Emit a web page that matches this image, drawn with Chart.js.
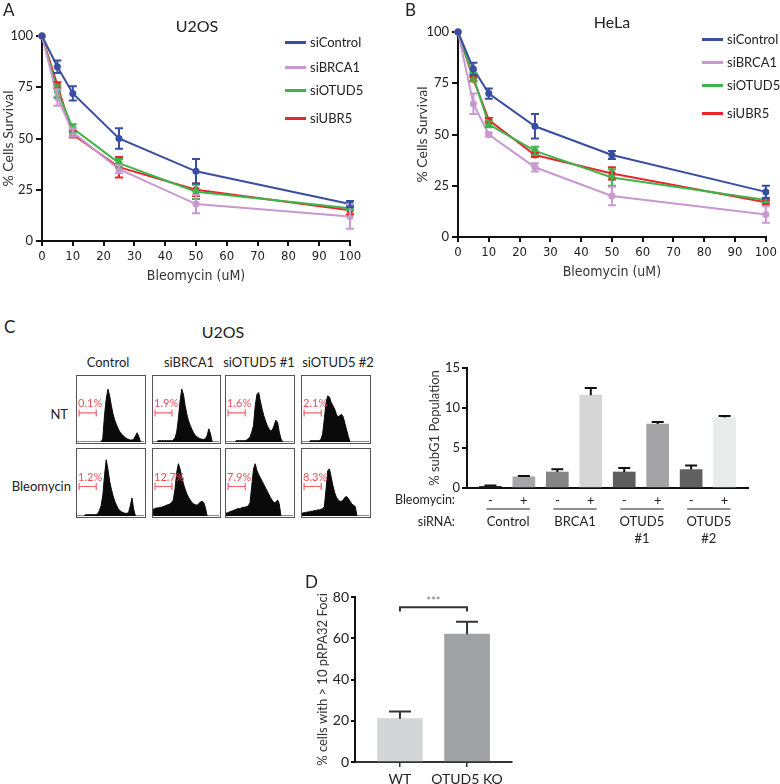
<!DOCTYPE html>
<html>
<head>
<meta charset="utf-8">
<script src="https://cdn.jsdelivr.net/npm/chart.js@4.4.1/dist/chart.umd.min.js"></script>
<style>
  body { margin: 0; background: #fff; width: 780px; height: 784px; position: relative; overflow: hidden; font-family: Lato, 'Open Sans', sans-serif; color: #222; }
  .pane { position: absolute; }
  .txt { position: absolute; white-space: nowrap; line-height: 1; }
  .box { position: absolute; border: 1.5px solid #555; box-sizing: border-box; }
  .box canvas { position: absolute; left: 0; top: 0; }
</style>
</head>
<body>
<div class="pane" style="left:0;top:0;width:390px;height:300px"><canvas id="chartA" width="390" height="300"></canvas></div>
<div class="pane" style="left:390px;top:0;width:390px;height:300px"><canvas id="chartB" width="390" height="300"></canvas></div>
<div class="pane" style="left:420px;top:340px;width:340px;height:210px"><canvas id="chartC" width="340" height="210"></canvas></div>
<div class="pane" style="left:240px;top:570px;width:290px;height:214px"><canvas id="chartD" width="290" height="214"></canvas></div>
<div id="texts"></div>

<script>
// survival curves (A: U2OS, B: HeLa)
const doses = [0, 5, 10, 25, 50, 100];
const seriesNames = ['siControl', 'siBRCA1', 'siOTUD5', 'siUBR5'];
const seriesColors = ['#3a4ea1', '#c898d0', '#3db54a', '#e8262b'];

const u2osControl = [100, 85, 72, 50, 34, 18];
const u2osControlErr = [0, 3, 3.5, 5, 6, 1.5];
const u2osBrca1 = [100, 70, 53, 35, 18, 12];
const u2osBrca1Err = [0, 4, 2, 2, 4.5, 6];
const u2osOtud5 = [100, 73, 55, 38, 24, 16];
const u2osOtud5Err = [0, 3, 2, 2, 3.5, 1];
const u2osUbr5 = [100, 76, 52, 36, 25, 15];
const u2osUbr5Err = [0, 1.5, 1.5, 5, 3, 2];

const helaControl = [100, 82, 70, 54, 40, 22];
const helaControlErr = [0, 3, 2.5, 6, 2, 3];
const helaBrca1 = [100, 65, 50, 34, 20, 11];
const helaBrca1Err = [0, 5, 1, 2, 4.5, 4];
const helaOtud5 = [100, 78, 55, 42, 29, 18];
const helaOtud5Err = [0, 2, 1.5, 2, 4, 1];
const helaUbr5 = [100, 77, 57, 40, 31, 17];
const helaUbr5Err = [0, 1, 1, 1, 3, 1];

// C: flow histograms (bin counts, arbitrary units) and gate percentages
const histColumns = ['Control', 'siBRCA1', 'siOTUD5 #1', 'siOTUD5 #2'];
const histRows = ['NT', 'Bleomycin'];
const histCtrlNT = [0,0,0,0,0,0,0,0,0,0,0,0,0,0,0,5,40,65,80,70,55,42,33,26,20,15,12,9,7,5,4,3,3,4,9,14,8,0,0,0];
const histBrcaNT = [0,0,0,2,2,2,2,2,2,2,2,2,3,6,15,35,62,80,72,55,42,32,25,19,14,10,8,6,5,4,4,5,10,20,12,0,0,0,0,0];
const histOtud1NT = [0,0,0,0,0,0,2,2,2,2,2,2,3,5,8,15,25,55,72,75,62,50,40,32,25,20,17,18,25,33,30,15,5,0,0,0,0,0,0,0];
const histOtud2NT = [0,0,0,0,0,2,2,2,2,2,2,4,12,35,60,70,68,60,55,50,42,38,40,42,38,28,18,8,0,0,0,0,0,0,0,0,0,0,0,0];
const histCtrlBleo = [0,0,0,0,0,2,2,2,2,2,2,2,3,8,15,30,60,84,70,52,40,30,22,16,11,8,6,5,4,4,5,15,27,10,0,0,0,0,0,0];
const histBrcaBleo = [10,11,12,12,13,13,14,15,16,17,18,20,24,40,65,78,70,58,48,40,33,28,24,20,18,17,16,18,21,22,20,12,0,0,0,0,0,0,0,0];
const histOtud1Bleo = [4,5,6,7,8,9,10,11,11,12,13,13,14,15,20,45,70,78,68,62,57,52,47,42,37,32,27,23,20,20,24,18,0,0,0,0,0,0,0,0];
const histOtud2Bleo = [4,5,5,6,6,7,7,8,8,9,9,10,11,14,40,68,70,58,45,35,28,24,22,22,24,28,29,26,22,18,16,14,0,0,0,0,0,0,0,0];
const ntGates = ['0.1%', '1.9%', '1.6%', '2.1%'];
const bleoGates = ['1.2%', '12.7%', '7.9%', '8.3%'];

// C: subG1 bars
const bleoSigns = ['-', '+', '-', '+', '-', '+', '-', '+'];
const subG1Values = [0.2, 1.4, 2.0, 11.6, 2.0, 8.0, 2.3, 8.8];
const subG1Errors = [0.1, 0.1, 0.35, 0.9, 0.5, 0.25, 0.5, 0.2];
const subG1Colors = ['#222222', '#a6a6a8', '#858585', '#d6d6d6', '#5e5e5e', '#a3a3a5', '#616161', '#e9eaea'];
const siRnaGroups = [['Control'], ['BRCA1'], ['OTUD5', '#1'], ['OTUD5', '#2']];

// D: pRPA32 foci
const fociLabels = ['WT', 'OTUD5 KO'];
const fociValues = [21, 62];
const fociErrors = [3.5, 6];
const fociColors = ['#d4d5d6', '#a0a1a4'];
const sigLevel = 75;
const sigText = '***';

const tickFont = "'Liberation Sans Narrow', 'DejaVu Sans Condensed', 'Open Sans', sans-serif";
const labelFont = "Lato, 'Open Sans', sans-serif";
Chart.defaults.font.family = labelFont;
Chart.defaults.color = '#222';
Chart.defaults.animation = false;

const errorBarPlugin = {
    id: 'errorBars',
    afterDatasetsDraw(chart) {
        const ctx = chart.ctx;
        const yScale = chart.scales.y;
        // reverse order so the first series ends on top, like the lines
        for (let i = chart.data.datasets.length - 1; i >= 0; i--) {
            const ds = chart.data.datasets[i];
            if (!ds.errors) continue;
            const meta = chart.getDatasetMeta(i);
            ctx.save();
            ctx.strokeStyle = ds.errorColor || ds.borderColor;
            ctx.lineWidth = 2;
            meta.data.forEach((el, j) => {
                const err = ds.errors[j];
                if (!err) return;
                const v = ds.data[j].y;
                const top = yScale.getPixelForValue(v + err);
                const bot = ds.upOnly ? yScale.getPixelForValue(v) : yScale.getPixelForValue(v - err);
                const half = ds.capWidth / 2;
                ctx.beginPath();
                ctx.moveTo(el.x, bot);
                ctx.lineTo(el.x, top);
                ctx.moveTo(el.x - half, top);
                ctx.lineTo(el.x + half, top);
                if (!ds.upOnly) {
                    ctx.moveTo(el.x - half, bot);
                    ctx.lineTo(el.x + half, bot);
                }
                ctx.stroke();
            });
            ctx.restore();
        }
    }
};

function yAxis(o) {
    return {
        min: o.min, max: o.max,
        ticks: { stepSize: o.step, color: '#222', padding: o.pad ?? 3, font: { family: labelFont, size: o.fs ?? 13 } },
        grid: { drawOnChartArea: false, drawTicks: true, tickLength: o.tick ?? 6, color: '#111', lineWidth: 2 },
        border: { color: '#111', width: 2 },
        title: { display: true, text: o.title, color: '#333', padding: { top: o.tp ?? 0, bottom: 0 }, font: { family: labelFont, size: o.tfs ?? 14 } },
        afterFit: (s) => { s.width = o.width; }
    };
}

function doseAxis(height) {
    return {
        type: 'linear', min: 0, max: 100,
        ticks: { stepSize: 10, color: '#222', padding: 3, font: { family: tickFont, size: 13 } },
        grid: { drawOnChartArea: false, drawTicks: true, tickLength: 5, color: '#111', lineWidth: 2 },
        border: { color: '#111', width: 2 },
        title: { display: true, text: 'Bleomycin (uM)', color: '#333', padding: { top: 0, bottom: 6 }, font: { family: tickFont, size: 14 } },
        afterFit: (s) => { s.height = height; }
    };
}

function lineSets(values, errors) {
    return values.map((v, i) => ({
        label: seriesNames[i],
        data: doses.map((d, j) => ({ x: d, y: v[j] })),
        errors: errors[i],
        borderColor: seriesColors[i],
        backgroundColor: seriesColors[i],
        borderWidth: 2,
        pointRadius: 3.5,
        pointBorderWidth: 0,
        capWidth: 8,
        clip: false
    }));
}

function survivalChart(id, values, errors, padding, yWidth) {
    return new Chart(document.getElementById(id), {
        type: 'line',
        data: { datasets: lineSets(values, errors) },
        options: {
            responsive: false,
            layout: { padding },
            plugins: { legend: { display: false }, tooltip: { enabled: false } },
            scales: {
                x: doseAxis(50),
                y: yAxis({ min: 0, max: 100, step: 25, width: yWidth, title: '% Cells Survival' })
            }
        },
        plugins: [errorBarPlugin]
    });
}

survivalChart('chartA',
    [u2osControl, u2osBrca1, u2osOtud5, u2osUbr5],
    [u2osControlErr, u2osBrca1Err, u2osOtud5Err, u2osUbr5Err],
    { left: 0, top: 36, right: 40, bottom: 9 }, 42);

survivalChart('chartB',
    [helaControl, helaBrca1, helaOtud5, helaUbr5],
    [helaControlErr, helaBrca1Err, helaOtud5Err, helaUbr5Err],
    { left: 24, top: 32, right: 14, bottom: 13 }, 44);

// histograms
const gatePlugin = {
    id: 'gate',
    afterDatasetsDraw(chart, args, opts) {
        const { ctx, scales: { x, y } } = chart;
        const x0 = x.getPixelForValue(1.2);
        const x1 = x.getPixelForValue(11.2);
        const yy = y.getPixelForValue(44);
        ctx.save();
        ctx.strokeStyle = '#f0646b';
        ctx.lineWidth = 1.2;
        ctx.beginPath();
        ctx.moveTo(x0, yy); ctx.lineTo(x1, yy);
        ctx.moveTo(x0, yy - 3.5); ctx.lineTo(x0, yy + 3.5);
        ctx.moveTo(x1, yy - 3.5); ctx.lineTo(x1, yy + 3.5);
        ctx.stroke();
        ctx.fillStyle = '#ef4f59';
        ctx.font = "11px " + labelFont;
        ctx.textAlign = 'left';
        ctx.textBaseline = 'middle';
        ctx.fillText(opts.label, x0 - 1, y.getPixelForValue(58));
        ctx.restore();
    }
};

const histData = [
    [histCtrlNT, histBrcaNT, histOtud1NT, histOtud2NT],
    [histCtrlBleo, histBrcaBleo, histOtud1Bleo, histOtud2Bleo]
];
const histGates = [ntGates, bleoGates];
const boxLeft = [76, 152, 225, 301];
const boxWidth = [70, 69, 70, 70];
const boxTop = [375, 448];
const boxHeight = [69, 70];

histData.forEach((row, r) => {
    row.forEach((bins, c) => {
        const box = document.createElement('div');
        box.className = 'box';
        box.style.left = boxLeft[c] + 'px';
        box.style.top = boxTop[r] + 'px';
        box.style.width = boxWidth[c] + 'px';
        box.style.height = boxHeight[r] + 'px';
        const cv = document.createElement('canvas');
        cv.width = boxWidth[c] - 3;
        cv.height = boxHeight[r] - 3;
        box.appendChild(cv);
        document.body.appendChild(box);
        new Chart(cv, {
            type: 'line',
            data: {
                datasets: [{
                    data: bins.map((v, i) => ({ x: i, y: v })),
                    borderColor: '#0a0a0a',
                    borderWidth: 1,
                    backgroundColor: '#0a0a0a',
                    fill: 'origin',
                    pointRadius: 0
                }]
            },
            options: {
                responsive: false,
                layout: { padding: 0 },
                plugins: { legend: { display: false }, tooltip: { enabled: false }, gate: { label: histGates[r][c] } },
                scales: {
                    x: { type: 'linear', display: false, min: 0, max: bins.length - 1 },
                    y: { display: false, min: 0, max: 100 }
                }
            },
            plugins: [gatePlugin]
        });
    });
});

// subG1 bar chart
const groupPlugin = {
    id: 'groups',
    afterDraw(chart) {
        const { ctx, scales: { x }, chartArea } = chart;
        ctx.save();
        siRnaGroups.forEach((lines, g) => {
            const x0 = x.getPixelForValue(g * 2);
            const x1 = x.getPixelForValue(g * 2 + 1);
            const yLine = chartArea.bottom + 21;
            ctx.strokeStyle = '#222';
            ctx.lineWidth = 1.2;
            ctx.beginPath();
            ctx.moveTo(x0 - 4, yLine);
            ctx.lineTo(x1 + 6, yLine);
            ctx.stroke();
            ctx.fillStyle = '#222';
            ctx.font = "13px " + labelFont;
            ctx.textAlign = 'center';
            ctx.textBaseline = 'middle';
            lines.forEach((t, k) => ctx.fillText(t, (x0 + x1) / 2 + 1, chartArea.bottom + 34 + k * 17));
        });
        ctx.restore();
    }
};

// one tick per bar, whatever the padded range is
const barTicks = (labels) => (s) => { s.ticks = labels.map((_, i) => ({ value: i })); };

new Chart(document.getElementById('chartC'), {
    type: 'bar',
    data: {
        datasets: [{
            data: subG1Values.map((v, i) => ({ x: i, y: v })),
            errors: subG1Errors,
            upOnly: true,
            errorColor: '#111',
            capWidth: 12,
            backgroundColor: subG1Colors,
            barThickness: 22
        }]
    },
    options: {
        responsive: false,
        layout: { padding: { left: 5, top: 28, right: 12, bottom: 0 } },
        plugins: { legend: { display: false }, tooltip: { enabled: false } },
        scales: {
            x: {
                type: 'linear', min: -0.7, max: 7.7, offset: false,
                afterBuildTicks: barTicks(bleoSigns),
                ticks: { autoSkip: false, maxRotation: 0, padding: 5, color: '#222', font: { family: labelFont, size: 13 },
                    callback: (v) => bleoSigns[v] ?? '' },
                grid: { offset: false, drawOnChartArea: false, drawTicks: false },
                border: { color: '#111', width: 2 },
                afterFit: (s) => { s.height = 62; }
            },
            y: yAxis({ min: 0, max: 15, step: 5, width: 42, pad: 2, tick: 5, tp: 2, title: '% subG1 Population', tfs: 13 })
        }
    },
    plugins: [errorBarPlugin, groupPlugin]
});

// D bar chart
const sigPlugin = {
    id: 'sig',
    afterDatasetsDraw(chart) {
        const { ctx, scales: { x, y } } = chart;
        const x0 = x.getPixelForValue(0);
        const x1 = x.getPixelForValue(1);
        const yTop = y.getPixelForValue(sigLevel);
        const yEnd = y.getPixelForValue(sigLevel - 2);
        ctx.save();
        ctx.strokeStyle = '#333';
        ctx.lineWidth = 2;
        ctx.beginPath();
        ctx.moveTo(x0, yEnd); ctx.lineTo(x0, yTop); ctx.lineTo(x1, yTop); ctx.lineTo(x1, yEnd);
        ctx.stroke();
        ctx.fillStyle = '#777';
        ctx.font = "11px " + labelFont;
        ctx.textAlign = 'center';
        ctx.textBaseline = 'middle';
        ctx.fillText(sigText, (x0 + x1) / 2, yTop - 6);
        ctx.restore();
    }
};

new Chart(document.getElementById('chartD'), {
    type: 'bar',
    data: {
        datasets: [{
            data: fociValues.map((v, i) => ({ x: i, y: v })),
            errors: fociErrors,
            upOnly: true,
            errorColor: '#333',
            capWidth: 22,
            backgroundColor: fociColors,
            barThickness: 45
        }]
    },
    options: {
        responsive: false,
        layout: { padding: { left: 75, top: 27, right: 18, bottom: 0 } },
        plugins: { legend: { display: false }, tooltip: { enabled: false } },
        scales: {
            x: {
                type: 'linear', min: -0.67, max: 1.67, offset: false,
                afterBuildTicks: barTicks(fociLabels),
                ticks: { autoSkip: false, maxRotation: 0, padding: 4, color: '#222', font: { family: labelFont, size: 14 },
                    callback: (v) => fociLabels[v] ?? '' },
                grid: { offset: false, drawOnChartArea: false, drawTicks: true, tickLength: 5, color: '#333', lineWidth: 1.5 },
                border: { color: '#333', width: 2 },
                afterFit: (s) => { s.height = 22; }
            },
            y: yAxis({ min: 0, max: 80, step: 20, width: 40, pad: 2, tick: 4, title: '% cells with > 10 pRPA32 Foci', tfs: 13, fs: 14 })
        }
    },
    plugins: [errorBarPlugin, sigPlugin]
});

// text overlays
const texts = document.getElementById('texts');
function put(text, x, y, anchor, size) {
    const d = document.createElement('div');
    d.className = 'txt';
    d.textContent = text;
    d.style.left = x + 'px';
    d.style.top = y + 'px';
    d.style.fontSize = size + 'px';
    const tx = anchor === 'c' ? '-50%' : anchor === 'r' ? '-100%' : '0';
    d.style.transform = 'translate(' + tx + ',-50%)';
    texts.appendChild(d);
}

put('A', 3, 9, 'l', 17);
put('B', 405, 9, 'l', 17);
put('U2OS', 197, 26, 'c', 16);
put('HeLa', 612, 22, 'c', 16);

function legend(x, rows) {
    seriesNames.forEach((name, i) => {
        const ln = document.createElement('div');
        ln.className = 'pane';
        Object.assign(ln.style, { left: x + 'px', top: (rows[i] - 1) + 'px', width: '21px', height: '2.5px', background: seriesColors[i] });
        texts.appendChild(ln);
        put(name, x + 25, rows[i], 'l', 13);
    });
}
legend(285, [42, 67, 90, 118]);
legend(702, [39, 62, 85, 113]);

put('C', 4, 326, 'l', 17);
put('U2OS', 223, 332, 'c', 16);
const headerX = [108, 189, 259, 338];
histColumns.forEach((h, i) => put(h, headerX[i], 362, 'c', 13));
put(histRows[0], 68, 414, 'r', 13);
put(histRows[1], 71, 486, 'r', 13);
put('Bleomycin:', 455, 500, 'r', 12.5);
put('siRNA:', 455, 522, 'r', 12.5);
put('D', 305, 581, 'l', 17);
</script>
</body>
</html>
